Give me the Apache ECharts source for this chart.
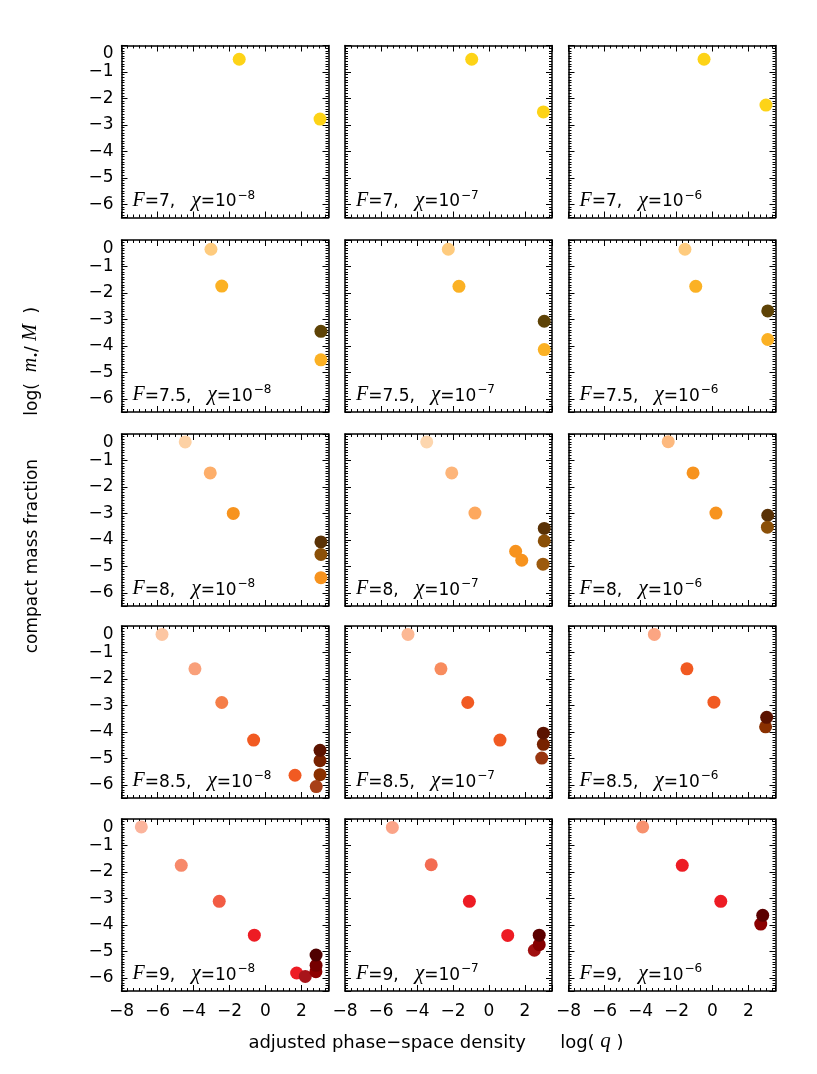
<!DOCTYPE html>
<html><head><meta charset="utf-8">
<script src="https://cdn.jsdelivr.net/npm/echarts@6/dist/echarts.min.js"></script>
<style>html,body{margin:0;padding:0;background:#fff}#c{width:817px;height:1074px}</style>
</head><body><div id="c"></div>
<script>
// ---- data (log q, log m/M, colour per point) ----
const Fvals = ['7', '7.5', '8', '8.5', '9'];
const chiExps = ['\u22128', '\u22127', '\u22126'];
const xTickLabels = ['\u22128', '\u22126', '\u22124', '\u22122', '0', '2'];
const yTickLabels = ['0', '\u22121', '\u22122', '\u22123', '\u22124', '\u22125', '\u22126'];

const q_7_8 = [-1.46, 3.03];
const m_7_8 = [-0.52, -2.78];
const q_7_7 = [-0.96, 3.02];
const m_7_7 = [-0.52, -2.51];
const q_7_6 = [-0.47, 2.97];
const m_7_6 = [-0.52, -2.25];

const q_75_8 = [-3.03, -2.43, 3.08, 3.08];
const m_75_8 = [-0.35, -1.74, -3.45, -4.53];
const q_75_7 = [-2.26, -1.67, 3.07, 3.07];
const m_75_7 = [-0.35, -1.75, -3.07, -4.14];
const q_75_6 = [-1.53, -0.93, 3.07, 3.07];
const m_75_6 = [-0.35, -1.75, -2.68, -3.76];

const q_8_8 = [-4.46, -3.07, -1.79, 3.08, 3.08, 3.08];
const m_8_8 = [-0.30, -1.47, -3.00, -4.08, -4.55, -5.43];
const q_8_7 = [-3.46, -2.07, -0.78, 1.48, 1.82, 3.07, 3.07, 3.00];
const m_8_7 = [-0.30, -1.47, -2.99, -4.43, -4.77, -3.57, -4.04, -4.92];
const q_8_6 = [-2.46, -1.08, 0.19, 3.07, 3.05];
const m_8_6 = [-0.29, -1.47, -2.99, -3.07, -3.52];

const q_85_8 = [-5.75, -3.92, -2.43, -0.66, 1.64, 2.82, 3.03, 3.03, 3.03];
const m_85_8 = [-0.32, -1.62, -2.89, -4.31, -5.64, -6.07, -5.62, -5.09, -4.70];
const q_85_7 = [-4.50, -2.67, -1.18, 0.61, 2.93, 3.02, 3.02];
const m_85_7 = [-0.32, -1.62, -2.89, -4.31, -4.99, -4.47, -4.05];
const q_85_6 = [-3.23, -1.42, 0.08, 2.95, 3.01];
const m_85_6 = [-0.32, -1.62, -2.88, -3.81, -3.45];

const q_9_8 = [-6.90, -4.68, -2.57, -0.62, 1.73, 2.21, 2.80, 2.81, 2.81];
const m_9_8 = [-0.30, -1.75, -3.11, -4.39, -5.82, -5.95, -5.77, -5.53, -5.14];
const q_9_7 = [-5.37, -3.21, -1.09, 1.04, 2.52, 2.79, 2.79];
const m_9_7 = [-0.32, -1.73, -3.11, -4.40, -4.96, -4.75, -4.39];
const q_9_6 = [-3.88, -1.68, 0.46, 2.68, 2.79];
const m_9_6 = [-0.30, -1.75, -3.11, -3.97, -3.64];

// ---- point colours ----
const col_7_8 = ['#FDD317', '#FDD317'];
const col_7_7 = ['#FDD317', '#FDD317'];
const col_7_6 = ['#FDD317', '#FDD317'];
const col_75_8 = ['#FECB7E', '#FBB124', '#5E4306', '#FBB124'];
const col_75_7 = ['#FECB7E', '#FBB124', '#5E4306', '#FBB124'];
const col_75_6 = ['#FECB7E', '#FBB124', '#5E4306', '#FBB124'];
const col_8_8 = ['#FDD1A4', '#FDAE6A', '#F7931E', '#5A3206', '#8B5008', '#F7931E'];
const col_8_7 = ['#FDD6AE', '#FDB57A', '#FDA85E', '#F7931E', '#F7931E', '#5A3206', '#8B5008', '#9C5A0E'];
const col_8_6 = ['#FDB97E', '#F7931E', '#F7931E', '#5A3206', '#8B5008'];
const col_85_8 = ['#FCC6A2', '#F9A07A', '#F57E48', '#F15A22', '#F15A22', '#A84018', '#8A3000', '#772200', '#5C1300'];
const col_85_7 = ['#FCB894', '#F88C5E', '#F15A22', '#F15A22', '#9A3610', '#772200', '#5C1300'];
const col_85_6 = ['#FBA582', '#F15A22', '#F15A22', '#8A3000', '#5C1300'];
const col_9_8 = ['#FBB49C', '#F7896A', '#F25C44', '#ED1C24', '#ED1C24', '#A8141A', '#8E0000', '#760000', '#4F0000'];
const col_9_7 = ['#FBA488', '#F36C52', '#ED1C24', '#ED1C24', '#A01010', '#860000', '#5C0000'];
const col_9_6 = ['#F7916E', '#ED1C24', '#ED1C24', '#8B0000', '#5C0000'];

const panelData = [
  [[q_7_8, m_7_8, col_7_8], [q_7_7, m_7_7, col_7_7], [q_7_6, m_7_6, col_7_6]],
  [[q_75_8, m_75_8, col_75_8], [q_75_7, m_75_7, col_75_7], [q_75_6, m_75_6, col_75_6]],
  [[q_8_8, m_8_8, col_8_8], [q_8_7, m_8_7, col_8_7], [q_8_6, m_8_6, col_8_6]],
  [[q_85_8, m_85_8, col_85_8], [q_85_7, m_85_7, col_85_7], [q_85_6, m_85_6, col_85_6]],
  [[q_9_8, m_9_8, col_9_8], [q_9_7, m_9_7, col_9_7], [q_9_6, m_9_6, col_9_6]]
];

// ---- layout ----
const colLeft = [121.5, 345, 568.5];
const rowTop = [45.5, 240, 434, 626, 819];
const PW = 207, PH = 172;
const SANS = 'DejaVu Sans';
const SERIF = 'Liberation Serif';

const grids = [], xAxes = [], yAxes = [], series = [], graphics = [];
const tickStyle = { color: '#000', width: 1 };
const lineStyle = { color: '#000', width: 1.5 };

function fmtX(v) {
  const i = [-8, -6, -4, -2, 0, 2].indexOf(Math.round(v * 100) / 100);
  return i >= 0 ? xTickLabels[i] : '';
}
function fmtY(v) {
  const r = Math.round(v * 100) / 100;
  if (r > 0 || r < -6 || r !== Math.round(r)) return '';
  return yTickLabels[-r];
}

let idx = 0;
for (let r = 0; r < 5; r++) {
  for (let c = 0; c < 3; c++) {
    const [q, m, colr] = panelData[r][c];
    grids.push({ left: colLeft[c], top: rowTop[r], width: PW, height: PH, outerBoundsMode: 'none', containLabel: false });
    const xBase = {
      gridIndex: idx, type: 'value', min: -8, max: 3.5, minInterval: 2, maxInterval: 2,
      axisLine: { show: true, onZero: false, lineStyle },
      axisTick: { show: true, inside: true, length: 6, lineStyle: tickStyle },
      minorTick: { show: true, splitNumber: 6, length: 3, lineStyle: tickStyle },
      splitLine: { show: false }, minorSplitLine: { show: false }
    };
    xAxes.push(Object.assign({}, xBase, {
      position: 'bottom',
      axisLabel: { show: r === 4, formatter: fmtX, fontFamily: SANS, fontSize: 17, color: '#000', margin: 12, showMinLabel: true, showMaxLabel: true, hideOverlap: false }
    }));
    xAxes.push(Object.assign({}, xBase, { position: 'top', axisLabel: { show: false } }));
    const yBase = {
      gridIndex: idx, type: 'value', min: -6.5, max: 0, minInterval: 1, maxInterval: 1,
      axisLine: { show: true, onZero: false, lineStyle },
      axisTick: { show: true, inside: true, length: 6, lineStyle: tickStyle },
      minorTick: { show: true, splitNumber: 10, length: 3, lineStyle: tickStyle },
      splitLine: { show: false }, minorSplitLine: { show: false }
    };
    yAxes.push(Object.assign({}, yBase, {
      position: 'left',
      axisLabel: { show: c === 0, formatter: fmtY, fontFamily: SANS, fontSize: 17, color: '#000', margin: 8, showMinLabel: true, showMaxLabel: true, hideOverlap: false, verticalAlignMaxLabel: 'top' }
    }));
    yAxes.push(Object.assign({}, yBase, { position: 'right', axisLabel: { show: false } }));
    series.push({
      type: 'scatter', xAxisIndex: 2 * idx, yAxisIndex: 2 * idx,
      symbol: 'circle', symbolSize: 13, silent: true,
      data: q.map((v, k) => ({ value: [v, m[k]], itemStyle: { color: colr[k], opacity: 1 } }))
    });
    graphics.push({
      type: 'text', left: colLeft[c] + 11, top: rowTop[r] + PH - 28,
      style: {
        text: '{f|F}{n|=' + Fvals[r] + ',   }{c|\u03c7}{n|=10}{s|' + chiExps[c] + '}',
        rich: {
          f: { fontFamily: SERIF, fontStyle: 'italic', fontSize: 20, fill: '#000', lineHeight: 24, verticalAlign: 'bottom' },
          n: { fontFamily: SANS, fontSize: 17, fill: '#000', lineHeight: 24, verticalAlign: 'bottom' },
          c: { fontFamily: SERIF, fontStyle: 'italic', fontSize: 21, fill: '#000', lineHeight: 26, verticalAlign: 'bottom' },
          s: { fontFamily: SANS, fontSize: 12, fill: '#000', lineHeight: 14, verticalAlign: 'bottom', padding: [0, 0, 9, 1] }
        }
      }
    });
    idx++;
  }
}

// axis titles
graphics.push({
  type: 'text', x: 436, y: 1040,
  style: {
    text: '{n|adjusted phase\u2212space density      log( }{i|q}{n| )}',
    align: 'center', verticalAlign: 'middle',
    rich: {
      n: { fontFamily: SANS, fontSize: 18, fill: '#000', lineHeight: 24, verticalAlign: 'bottom' },
      i: { fontFamily: SERIF, fontStyle: 'italic', fontSize: 21, fill: '#000', lineHeight: 24, verticalAlign: 'bottom' }
    }
  }
});
graphics.push({
  type: 'text', x: 29, y: 480, rotation: Math.PI / 2,
  style: {
    text: '{n|compact mass fraction        log(  }{i|m}{b|\u2022}{n|/ }{i|M}{n|  )}',
    align: 'center', verticalAlign: 'middle',
    rich: {
      n: { fontFamily: SANS, fontSize: 17, fill: '#000', lineHeight: 24, verticalAlign: 'bottom' },
      i: { fontFamily: SERIF, fontStyle: 'italic', fontSize: 20, fill: '#000', lineHeight: 24, verticalAlign: 'bottom' },
      b: { fontFamily: SANS, fontSize: 10, fill: '#000', lineHeight: 18, verticalAlign: 'bottom' }
    }
  }
});

const chart = echarts.init(document.getElementById('c'), null, { renderer: 'canvas' });
chart.setOption({
  animation: false,
  backgroundColor: '#fff',
  grid: grids, xAxis: xAxes, yAxis: yAxes, series: series, graphic: graphics
});
</script></body></html>
